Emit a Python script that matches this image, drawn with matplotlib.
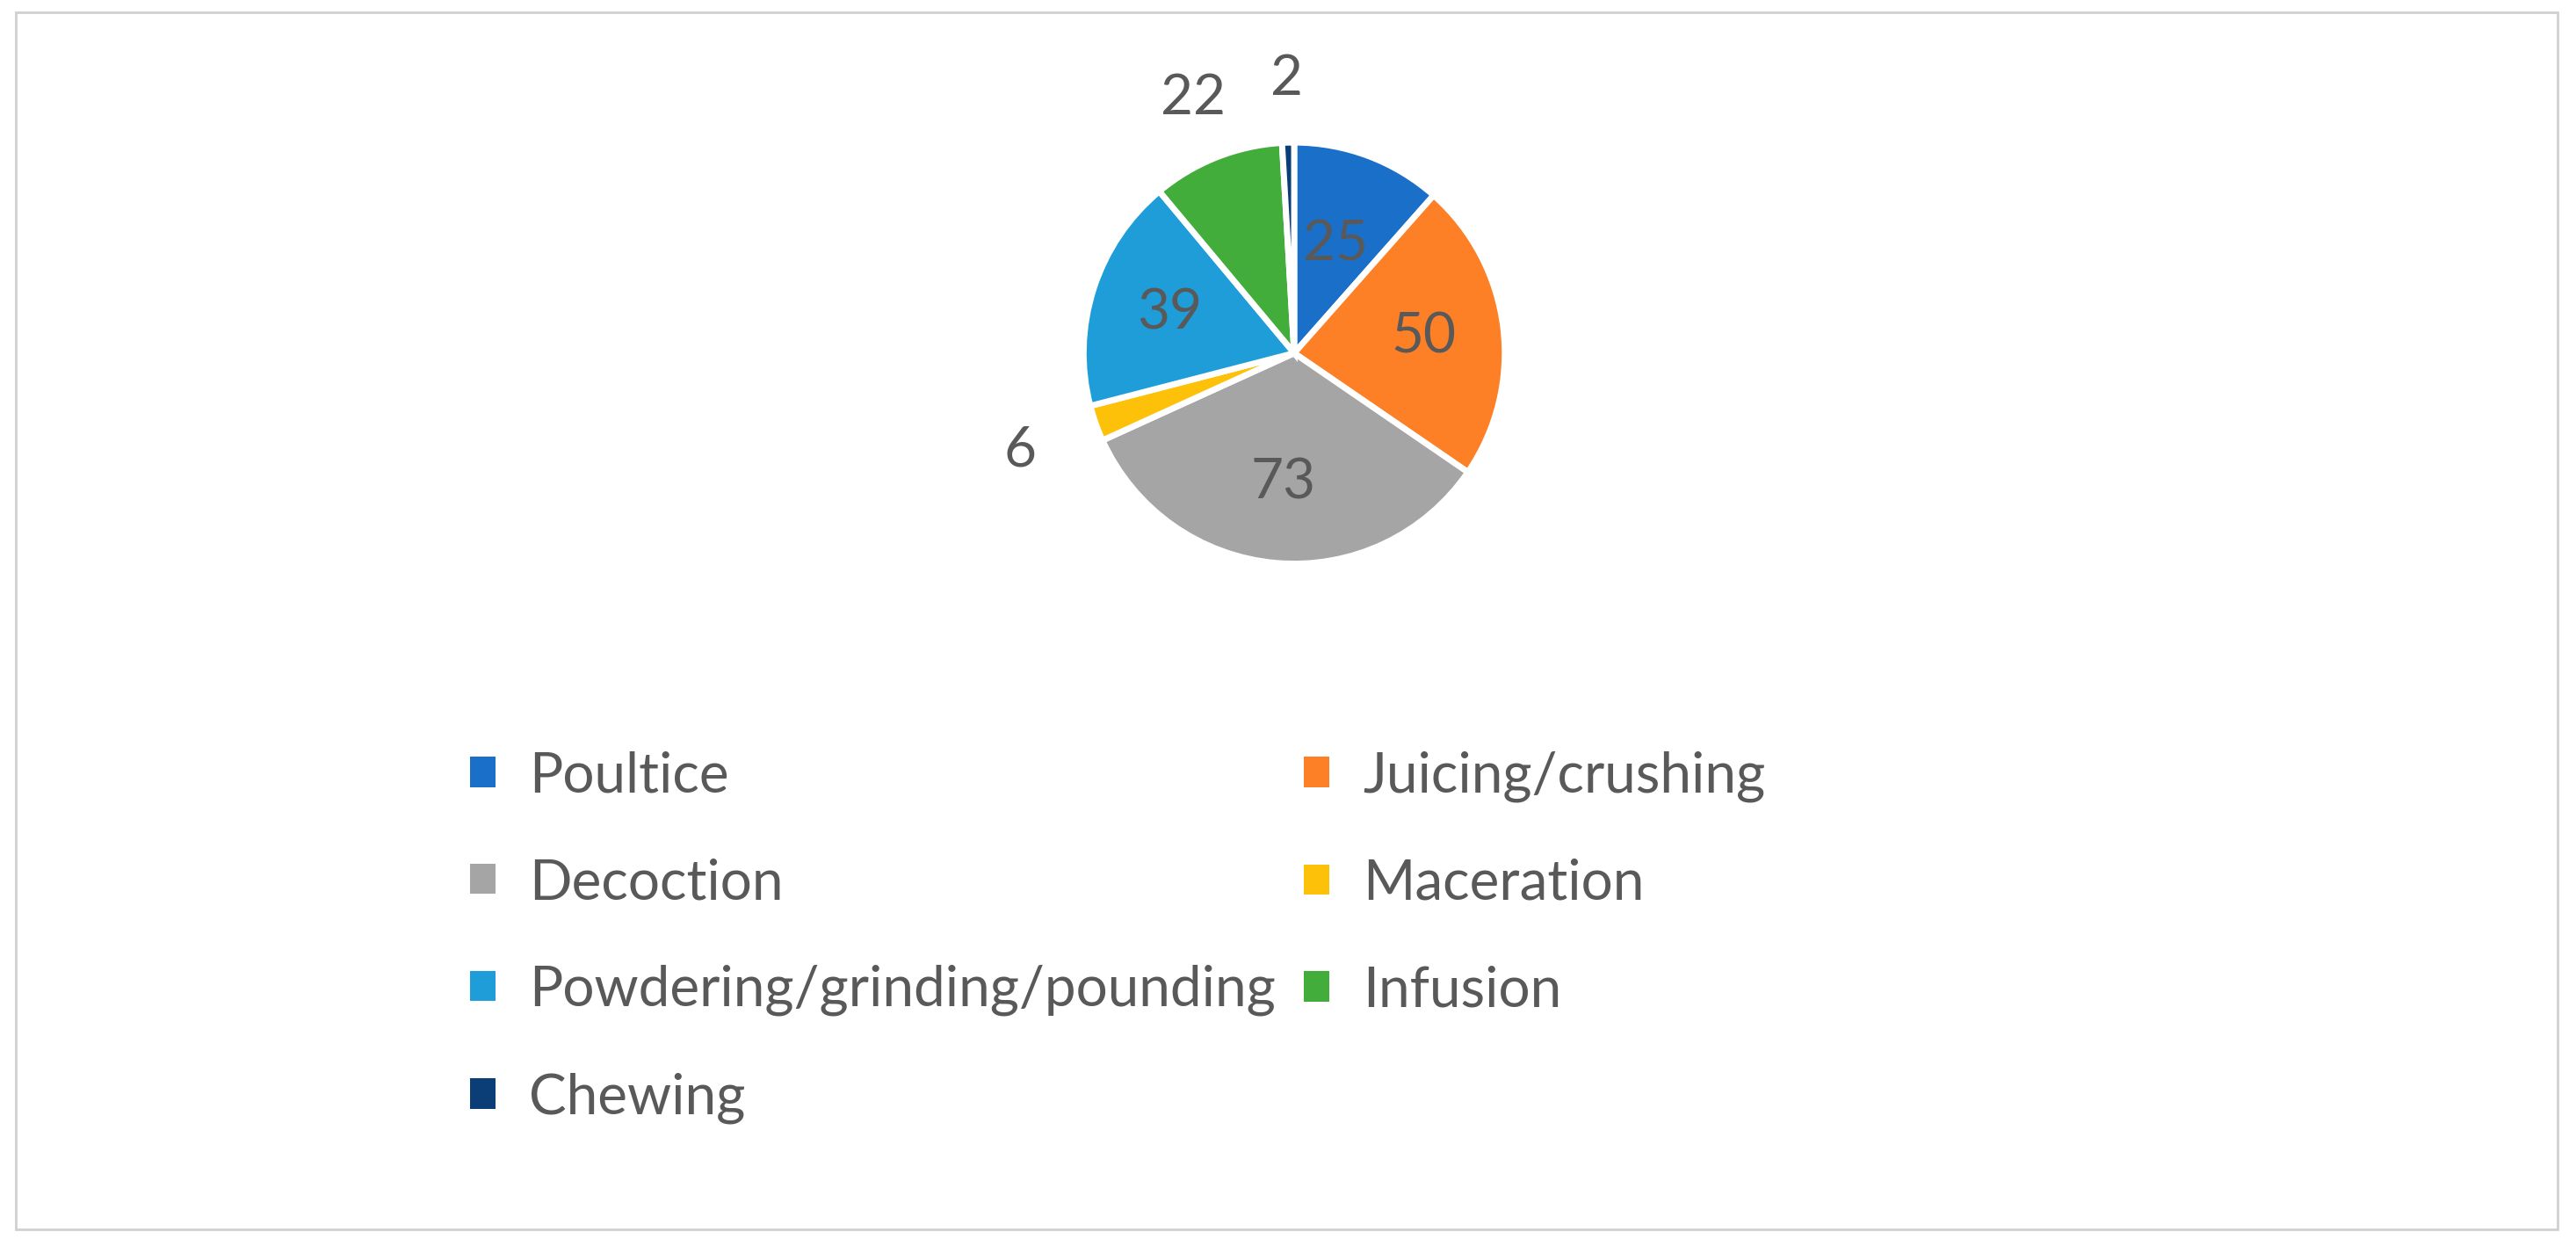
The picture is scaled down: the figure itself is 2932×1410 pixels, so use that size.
import matplotlib
matplotlib.use('Agg')
import matplotlib.pyplot as plt
from matplotlib.patches import Rectangle, Patch
import numpy as np

labels = ['Poultice', 'Juicing/crushing', 'Decoction', 'Maceration',
          'Powdering/grinding/pounding', 'Infusion', 'Chewing']
values = [25, 50, 73, 6, 39, 22, 2]
colors = ['#1a6fc9', '#fd7f26', '#a5a5a5', '#fec10a', '#1f9dd9', '#43ad3c', '#0b3e77']
label_r = [0.55, 0.62, 0.62, 1.38, 0.62, 1.3, 1.3]

plt.rcParams['font.family'] = ['Lato', 'DejaVu Sans']
txt_color = '#595959'

fig = plt.figure(figsize=(29.32, 14.10), dpi=100)
fig.patches.append(Rectangle((0.006, 0.008), 0.987, 0.982, transform=fig.transFigure,
                             fill=False, edgecolor='#d0d0d0', linewidth=2))

ax = fig.add_axes([0.5024 - 0.0819, 0.715 - 0.170, 0.1638, 0.340])
wedges, _ = ax.pie(values, colors=colors, startangle=90, counterclock=False,
                   radius=1, wedgeprops=dict(edgecolor='white', linewidth=5))
ax.set_xlim(-1, 1)
ax.set_ylim(-1, 1)
ax.set_aspect('equal')
ax.axis('off')

for w, v, r in zip(wedges, values, label_r):
    ang = np.deg2rad((w.theta1 + w.theta2) / 2)
    ax.text(r * np.cos(ang), r * np.sin(ang), str(v), ha='center', va='center',
            fontsize=46, color=txt_color, clip_on=False)

order = [0, 2, 4, 6, 1, 3, 5]
handles = [Patch(facecolor=colors[i], label=labels[i]) for i in order]
leg = fig.legend(handles=handles, ncol=2, loc='upper left',
                 bbox_to_anchor=(0.163, 0.435), frameon=False,
                 fontsize=46, handlelength=0.45, handleheight=0.45,
                 handletextpad=0.6, labelspacing=1.0, columnspacing=0.5)
for t in leg.get_texts():
    t.set_color(txt_color)

fig.savefig('out.png', dpi=100, facecolor='white')
